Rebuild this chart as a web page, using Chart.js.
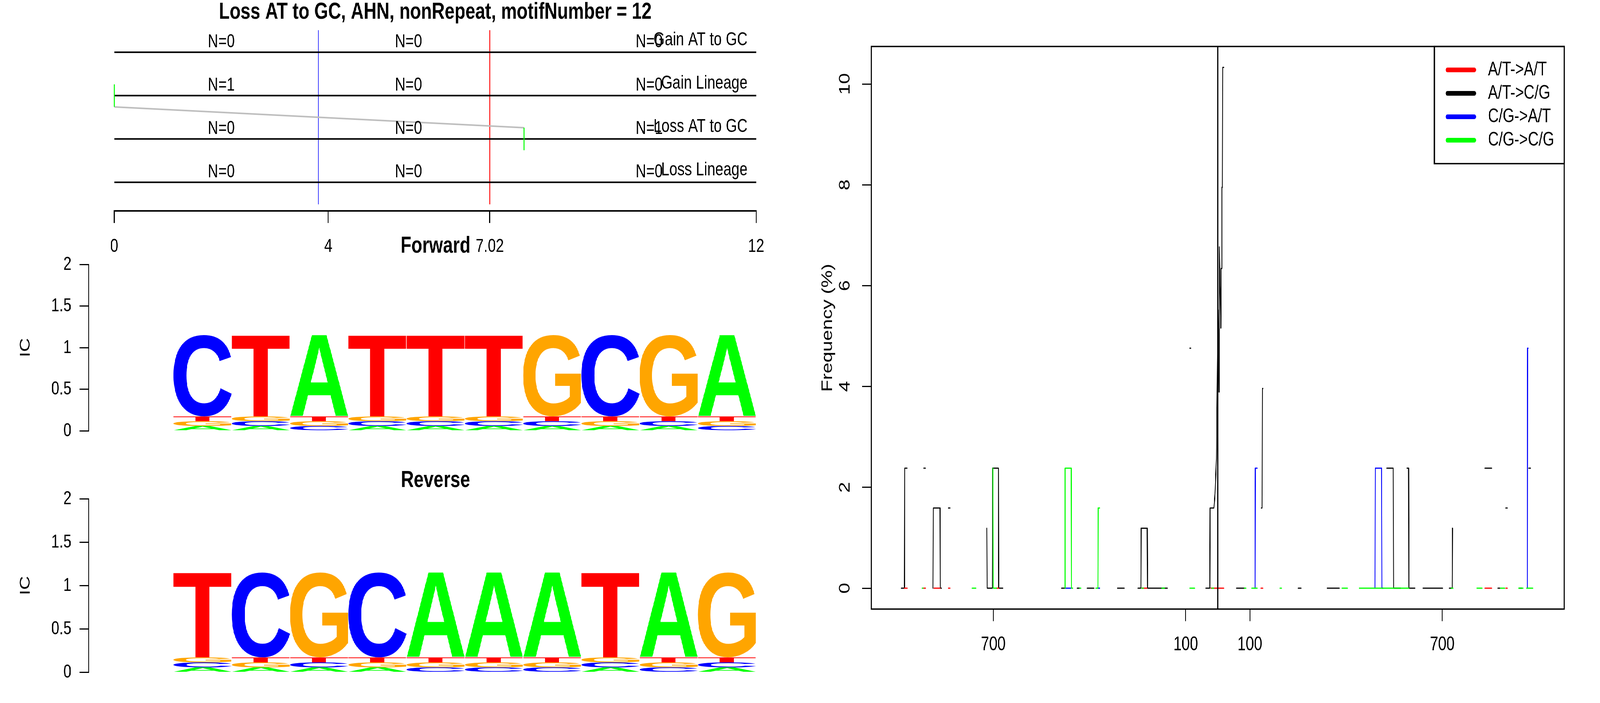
<!DOCTYPE html>
<html>
<head>
<meta charset="utf-8">
<script src="https://cdn.jsdelivr.net/npm/chart.js@4.4.1/dist/chart.umd.min.js"></script>
<style>
  html, body { margin: 0; padding: 0; background: #fff; overflow: hidden; }
  #page { position: relative; width: 5400px; height: 1800px; overflow: hidden; background: #fff; transform-origin: 0 0; }
  canvas { position: absolute; }
</style>
</head>
<body>
<div id="page">
  <canvas id="track" width="2700" height="700" style="left:0;top:0"></canvas>
  <canvas id="fwd" width="2700" height="600" style="left:0;top:560px"></canvas>
  <canvas id="rev" width="2700" height="640" style="left:0;top:1160px"></canvas>
  <canvas id="freq" width="2700" height="1800" style="left:2700px;top:0"></canvas>
</div>
<script>
// the window may be smaller than the 5400x1800 frame: fit the frame into it
(function () {
  var sx = window.innerWidth / 5400, sy = window.innerHeight / 1800;
  if (sx !== 1 || sy !== 1) document.getElementById('page').style.transform = 'scale(' + sx + ',' + sy + ')';
})();

var FONT = '"Liberation Sans", Arial, Helvetica, sans-serif';
Chart.defaults.font.family = FONT;
Chart.defaults.color = '#000';

// ---------- top-left: motif track ----------
var trackTitle = 'Loss AT to GC, AHN, nonRepeat, motifNumber = 12';
var trackRange = [0, 12];
var trackTicks = [0, 4, 7.02, 12];
var rowLabels = ['Gain AT to GC', 'Gain Lineage', 'Loss AT to GC', 'Loss Lineage'];
var rowY = [4, 3, 2, 1];
var nLabelX = [2, 5.5, 10];
var nCounts = [[0, 0, 0], [1, 0, 0], [0, 0, 1], [0, 0, 0]];
var cutX = [3.816, 7.02];
var cutSpan = [0.49, 4.51];
var eventX = [0, 7.66];
var eventRow = [3, 2];
var eventHalf = 0.26;

// ---------- sequence logos (letter probabilities per position) ----------
var logoPos = [1, 2, 3, 4, 5, 6, 7, 8, 9, 10];
var logoTicks = [0, 0.5, 1, 1.5, 2];
var fwdA = [0.05, 0.05, 0.85, 0.05, 0.05, 0.05, 0.05, 0.05, 0.05, 0.85];
var fwdC = [0.85, 0.05, 0.05, 0.05, 0.05, 0.05, 0.05, 0.85, 0.05, 0.05];
var fwdG = [0.05, 0.05, 0.05, 0.05, 0.05, 0.05, 0.85, 0.05, 0.85, 0.05];
var fwdT = [0.05, 0.85, 0.05, 0.85, 0.85, 0.85, 0.05, 0.05, 0.05, 0.05];
var revA = [0.05, 0.05, 0.05, 0.05, 0.85, 0.85, 0.85, 0.05, 0.85, 0.05];
var revC = [0.05, 0.85, 0.05, 0.85, 0.05, 0.05, 0.05, 0.05, 0.05, 0.05];
var revG = [0.05, 0.05, 0.85, 0.05, 0.05, 0.05, 0.05, 0.05, 0.05, 0.85];
var revT = [0.85, 0.05, 0.05, 0.05, 0.05, 0.05, 0.05, 0.85, 0.05, 0.05];

// ---------- right: mutation frequency around motif ----------
var freqXTicks = [-700, -100, 100, 700];
var freqYTicks = [0, 2, 4, 6, 8, 10];
var seriesLabels = ['A/T->A/T', 'A/T->C/G', 'C/G->A/T', 'C/G->C/G'];
var atToAt = [
  [-977, 0], [-968, 0], null, [-917, 0], [-911, 0], null, [-885, 0], [-866, 0], null,
  [-840, 0], [-835, 0], null, [-690, 0], [-683, 0], null, [-237, 0], [-221, 0], null,
  [-22, 0], [19, 0], null, [135, 0], [140, 0], null, [833, 0], [854, 0], null,
  [898, 0], [903, 0]
];
var atToCg = [
  [-987, 0], [-977, 0], [-976, 2.38], [-969, 2.38], null,
  [-917, 2.38], [-912, 2.38], null,
  [-888, 0], [-887, 1.59], [-866, 1.59], [-865, 0], [-862, 0], null,
  [-840, 1.59], [-835, 1.59], null,
  [-720, 1.19], [-719, 0], [-703, 0], [-702, 2.38], [-684, 2.38], [-683, 0], [-670, 0], null,
  [-487, 0], [-476, 0], null,
  [-438, 0], [-431, 0], null,
  [-407, 0], [-386, 0], null,
  [-313, 0], [-292, 0], null,
  [-249, 0], [-240, 0], [-239, 1.19], [-220, 1.19], [-219, 0], [-157, 0], null,
  [-87, 4.76], [-84, 4.76], null,
  [-37, 0], [-25, 0], [-24, 1.59], [-12, 1.59], [-8.5, 1.87], [-4, 2.57], [1, 5.52], [3.7, 3.89],
  [4.6, 6.77], [9.5, 5.16], [10.5, 6.34], [12.3, 6.34], [12.6, 7.95], [14.5, 7.95], [15.4, 10.33], [19, 10.33], null,
  [58, 0], [83, 0], null,
  [136, 1.59], [138, 1.59], [139, 3.96], [141, 3.96], null,
  [251, 0], [260, 0], null,
  [341, 0], [379, 0], null,
  [527, 2.38], [547, 2.38], [548, 0], [570, 0], null,
  [590, 2.38], [595, 2.38], [596, 0], [615, 0], null,
  [640, 0], [701, 0], null,
  [722, 0], [731, 0], [732, 1.19], null,
  [833, 2.38], [854, 2.38], null,
  [873, 0], [879, 0], null,
  [898, 1.59], [903, 1.59], null,
  [940, 0], [948, 0], null,
  [970, 2.38], [975, 2.38]
];
var cgToAt = [
  [-476, 0], [-458, 0], null,
  [-374, 0], [-368, 0], null,
  [116, 0], [117, 2.38], [123, 2.38], null,
  [490, 0], [491, 2.38], [511, 2.38], [512, 0], [515, 0], null,
  [965, 0], [966, 4.76], [968, 4.76]
];
var cgToCg = [
  [-922, 0], [-919, 0], null,
  [-766, 0], [-754, 0], null,
  [-701, 2.38], [-700, 0], [-690, 0], null,
  [-476, 0], [-476, 2.38], [-457, 2.38], [-456, 0], [-452, 0], null,
  [-431, 0], [-427, 0], null,
  [-380, 0], [-374, 0], [-373, 1.59], [-368, 1.59], null,
  [-237, 0], [-232, 0], null,
  [-174, 0], [-166, 0], null,
  [-87, 0], [-72, 0], null,
  [-19, 0], [-13, 0], null,
  [83, 0], [88, 0], null,
  [106, 0], [123, 0], null,
  [194, 0], [199, 0], null,
  [387, 0], [404, 0], null,
  [441, 0], [596, 0], null,
  [728, 0], [733, 0], null,
  [808, 0], [824, 0], null,
  [881, 0], [894, 0], null,
  [938, 0], [952, 0], null,
  [963, 0], [982, 0]
];

// ---------- helpers ----------
function toPoints(pairs) {
  var out = [], lastX = 0;
  pairs.forEach(function (p) {
    if (p) { lastX = p[0]; out.push({x: p[0], y: p[1]}); }
    else out.push({x: lastX, y: null});
  });
  return out;
}
function fixTicks(values) {
  return function (scale) { scale.ticks = values.map(function (v) { return {value: v}; }); };
}

// ---------- chart 1: track ----------
var trackText = {
  id: 'trackText',
  afterDatasetsDraw: function (chart) {
    var ctx = chart.ctx, x = chart.scales.x, y = chart.scales.y;
    ctx.save();
    ctx.font = '49px ' + FONT;
    ctx.fillStyle = '#000';
    ctx.textBaseline = 'middle';
    rowY.forEach(function (ry, r) {
      ctx.textAlign = 'center';
      nLabelX.forEach(function (nx, k) {
        ctx.fillText('N=' + nCounts[r][k], x.getPixelForValue(nx), y.getPixelForValue(ry + 0.24));
      });
      ctx.textAlign = 'right';
      ctx.fillText(rowLabels[r], x.getPixelForValue(trackRange[1]) - 29, y.getPixelForValue(ry + 0.28));
    });
    ctx.restore();
  }
};

var cutColors = ['#0000ff', '#ff0000'];
var trackSets = [];
cutX.forEach(function (cx, i) {
  trackSets.push({data: [{x: cx, y: cutSpan[0]}, {x: cx, y: cutSpan[1]}], borderColor: cutColors[i], borderWidth: 2.5, order: 4});
});
rowY.forEach(function (ry) {
  trackSets.push({data: [{x: trackRange[0], y: ry}, {x: trackRange[1], y: ry}], borderColor: '#000', borderWidth: 4, order: 3});
});
trackSets.push({data: [{x: eventX[0], y: eventRow[0] - eventHalf}, {x: eventX[1], y: eventRow[1] + eventHalf}],
  borderColor: '#bebebe', borderWidth: 4, order: 2});
eventX.forEach(function (ex, i) {
  trackSets.push({data: [{x: ex, y: eventRow[i] - eventHalf}, {x: ex, y: eventRow[i] + eventHalf}], borderColor: '#00ff00', borderWidth: 2.5, order: 1});
});

new Chart(document.getElementById('track'), {
  type: 'line',
  data: {datasets: trackSets},
  options: {
    responsive: false, animation: false, devicePixelRatio: 1,
    clip: false,
    elements: {point: {radius: 0}, line: {tension: 0, borderCapStyle: 'butt'}},
    layout: {padding: {left: 385.7, right: 148, top: 0, bottom: 20}},
    plugins: {
      legend: {display: false}, tooltip: {enabled: false},
      title: {display: true, text: trackTitle, color: '#000',
        font: {size: 60, weight: 'bold', lineHeight: 0.97}, padding: {top: 2.4, bottom: 0}}
    },
    scales: {
      x: {type: 'linear', min: trackRange[0], max: trackRange[1], offset: false,
        afterBuildTicks: fixTicks(trackTicks),
        afterFit: function (s) { s.height = 140; },
        border: {display: true, color: '#000', width: 4},
        grid: {drawOnChartArea: false, drawTicks: true, tickLength: 31, color: '#000', lineWidth: 3},
        ticks: {font: {size: 49}, padding: 30.6, color: '#000', maxRotation: 0, autoSkip: false}
      },
      y: {type: 'linear', display: false, min: 0.34, max: 4.66}
    }
  },
  plugins: [trackText]
});

// ---------- charts 2/3: sequence logos ----------
var letterColors = {A: '#00ff00', C: '#0000ff', G: '#ffa500', T: '#ff0000'};
var letters = ['A', 'C', 'G', 'T'];

function logoRanges(probs) {
  var out = {A: [], C: [], G: [], T: []};
  logoPos.forEach(function (pos, i) {
    var ic = 2;
    letters.forEach(function (l) { var p = probs[l][i]; if (p > 0) ic += p * Math.log2(p); });
    var order = letters.slice().sort(function (a, b) { return probs[a][i] - probs[b][i]; });
    var base = 0;
    order.forEach(function (l) {
      var h = probs[l][i] * ic;
      out[l].push({x: pos, y: [base, base + h]});
      base += h;
    });
  });
  return out;
}

var glyphs = {
  id: 'glyphs',
  beforeDatasetDraw: function (chart, args) {
    var ds = chart.data.datasets[args.index];
    var ctx = chart.ctx;
    ctx.save();
    ctx.font = 'bold 200px ' + FONT;
    ctx.textAlign = 'left';
    ctx.textBaseline = 'alphabetic';
    var m = ctx.measureText(ds.label);
    var gw = m.actualBoundingBoxLeft + m.actualBoundingBoxRight;
    var gh = m.actualBoundingBoxAscent + m.actualBoundingBoxDescent;
    ctx.fillStyle = ds.backgroundColor;
    args.meta.data.forEach(function (bar) {
      var p = bar.getProps(['x', 'y', 'base', 'width'], true);
      var h = p.base - p.y;
      if (h <= 0) return;
      ctx.save();
      ctx.translate(p.x - p.width / 2, p.y);
      ctx.scale(p.width / gw, h / gh);
      ctx.fillText(ds.label, m.actualBoundingBoxLeft, m.actualBoundingBoxAscent);
      ctx.restore();
    });
    ctx.restore();
    return false;
  }
};

var panelTitle = {
  id: 'panelTitle',
  afterDraw: function (chart, args, opts) {
    var ctx = chart.ctx;
    ctx.save();
    ctx.font = 'bold 60px ' + FONT;
    ctx.fillStyle = '#000';
    ctx.textAlign = 'center';
    ctx.textBaseline = 'middle';
    ctx.fillText(opts.text, opts.x, opts.y);
    ctx.restore();
  }
};

function makeLogo(id, probs, title, canvasH) {
  var ranges = logoRanges(probs);
  new Chart(document.getElementById(id), {
    type: 'bar',
    data: {
      datasets: letters.map(function (l) {
        return {label: l, data: ranges[l], backgroundColor: letterColors[l], borderWidth: 0,
          grouped: false, barPercentage: 1, categoryPercentage: 1};
      })
    },
    options: {
      responsive: false, animation: false, devicePixelRatio: 1,
      layout: {padding: {left: 39.6, right: 148, top: 117, bottom: canvasH - 561.6}},
      plugins: {
        legend: {display: false}, tooltip: {enabled: false},
        panelTitle: {text: title, x: 1470, y: 70.5}
      },
      scales: {
        x: {type: 'linear', display: false, offset: false, min: -0.954, max: 10.5,
          afterBuildTicks: fixTicks(logoPos)},
        y: {type: 'linear', min: 0, max: 2,
          afterBuildTicks: fixTicks(logoTicks),
          afterFit: function (s) { s.width = 260; },
          border: {display: true, color: '#000', width: 3},
          grid: {drawOnChartArea: false, drawTicks: true, tickLength: 31, color: '#000', lineWidth: 3},
          ticks: {font: {size: 49}, padding: 27.6, color: '#000', autoSkip: false,
            callback: function (v) { return String(v); }},
          title: {display: true, text: 'IC', color: '#000', font: {size: 49}, padding: {top: 17, bottom: 0}}
        }
      }
    },
    plugins: [glyphs, panelTitle]
  });
}
makeLogo('fwd', {A: fwdA, C: fwdC, G: fwdG, T: fwdT}, 'Forward', 600);
makeLogo('rev', {A: revA, C: revC, G: revG, T: revT}, 'Reverse', 640);

// ---------- chart 4: frequency ----------
var freqFrame = {
  id: 'freqFrame',
  afterDatasetsDraw: function (chart) {
    var ctx = chart.ctx, a = chart.chartArea, x = chart.scales.x;
    ctx.save();
    ctx.strokeStyle = '#000';
    ctx.lineWidth = 4;
    var cx = x.getPixelForValue(0);
    ctx.beginPath(); ctx.moveTo(cx, a.top); ctx.lineTo(cx, a.bottom); ctx.stroke();
    ctx.lineWidth = 3.5;
    ctx.strokeRect(a.left, a.top, a.right - a.left, a.bottom - a.top);
    // legend box, R style, in the top-right corner
    var w = 438, h = 300, left = a.right - w, top = a.top;
    ctx.strokeRect(left, top, w, h);
    ctx.font = '50px ' + FONT;
    ctx.textAlign = 'left';
    ctx.textBaseline = 'middle';
    ctx.lineCap = 'round';
    seriesLabels.forEach(function (lab, i) {
      var ds = chart.data.datasets[i];
      var yy = top + 60 * (i + 1);
      ctx.strokeStyle = ds.borderColor;
      ctx.lineWidth = 12;
      ctx.beginPath(); ctx.moveTo(left + 44, yy); ctx.lineTo(left + 135, yy); ctx.stroke();
      ctx.fillStyle = '#000';
      ctx.fillText(lab, left + 181, yy + 0.5);
    });
    ctx.restore();
  }
};

var seriesData = [atToAt, atToCg, cgToAt, cgToCg];
var seriesColors = ['#ff0000', '#000000', '#0000ff', '#00ff00'];
var seriesOrder = [3, 4, 2, 1];

new Chart(document.getElementById('freq'), {
  type: 'line',
  data: {
    datasets: seriesData.map(function (s, i) {
      return {label: seriesLabels[i], data: toPoints(s), borderColor: seriesColors[i],
        borderWidth: 3, order: seriesOrder[i]};
    })
  },
  options: {
    responsive: false, animation: false, devicePixelRatio: 1,
    spanGaps: false,
    elements: {point: {radius: 0}, line: {tension: 0, borderCapStyle: 'round', borderJoinStyle: 'round'}},
    layout: {padding: {left: 41, right: 121, top: 119, bottom: 40.5}},
    plugins: {legend: {display: false}, tooltip: {enabled: false}},
    scales: {
      x: {type: 'linear', min: -1080, max: 1080, offset: false,
        afterBuildTicks: fixTicks(freqXTicks),
        afterFit: function (s) { s.height = 200; },
        border: {display: false},
        grid: {drawOnChartArea: false, drawTicks: true, tickLength: 31, color: '#000', lineWidth: 3},
        ticks: {font: {size: 50}, padding: 31, color: '#000', maxRotation: 0, autoSkip: false,
          callback: function (v) { return String(Math.abs(v)); }}
      },
      y: {type: 'linear', min: -0.414, max: 10.744,
        afterBuildTicks: fixTicks(freqYTicks),
        afterFit: function (s) { s.width = 200; },
        border: {display: false},
        grid: {drawOnChartArea: false, drawTicks: true, tickLength: 31, color: '#000', lineWidth: 3},
        ticks: {font: {size: 50}, padding: 29.2, color: '#000', minRotation: 90, maxRotation: 90,
          crossAlign: 'center', autoSkip: false},
        title: {display: true, text: 'Frequency (%)', color: '#000', font: {size: 50}, padding: {top: 23.7, bottom: 0}}
      }
    }
  },
  plugins: [freqFrame]
});
</script>
</body>
</html>
